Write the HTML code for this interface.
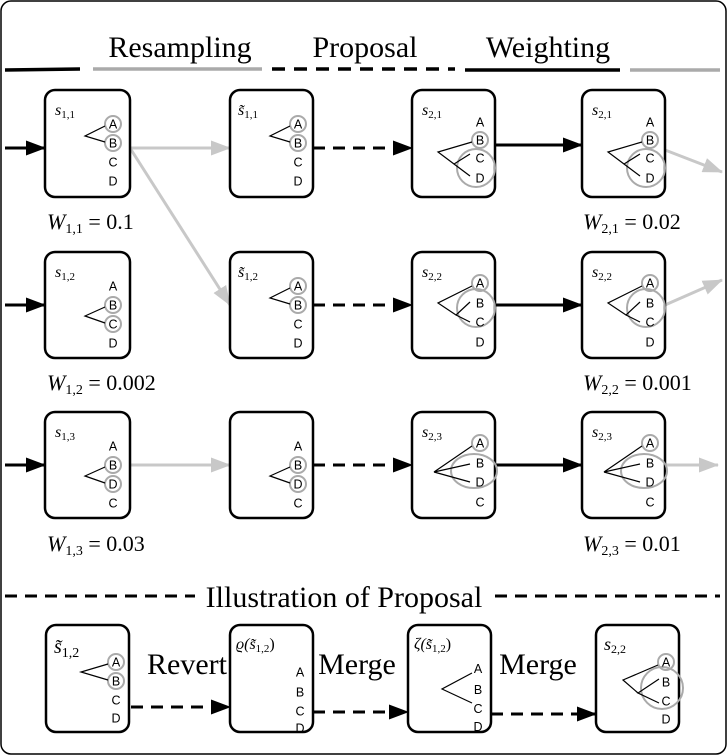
<!DOCTYPE html>
<html><head><meta charset="utf-8"><style>
html,body{margin:0;padding:0;background:#fff}
svg{display:block}
.l{font-family:"Liberation Sans",sans-serif;font-size:12.5px;text-anchor:middle}
.m{font-family:"Liberation Serif",serif;font-style:italic}
.h{font-family:"Liberation Serif",serif;font-size:30px;text-anchor:middle}
.box{fill:#fff;stroke:#000;stroke-width:2.5}
.c{fill:none;stroke:#aaa;stroke-width:2}
.t{stroke:#000;stroke-width:1.2;fill:none}
</style></head><body>
<svg width="727" height="755" viewBox="0 0 727 755" xmlns="http://www.w3.org/2000/svg">
<defs>
<marker id="ab2" markerWidth="20" markerHeight="15" refX="19" refY="7.5" orient="auto" markerUnits="userSpaceOnUse"><path d="M0,0 L20,7.5 L0,15 Z" fill="#000"/></marker>
<marker id="ag" markerWidth="20" markerHeight="15" refX="19" refY="7.5" orient="auto" markerUnits="userSpaceOnUse"><path d="M0,0 L20,7.5 L0,15 Z" fill="#c8c8c8"/></marker>
</defs>
<rect x="1" y="1" width="725" height="753" rx="10" fill="#fff" stroke="#000" stroke-width="1.5"/>

<text class="h" x="180" y="57">Resampling</text>
<text class="h" x="365" y="57">Proposal</text>
<text class="h" x="548" y="57">Weighting</text>
<line x1="5" y1="70" x2="80" y2="69" stroke="#000" stroke-width="3.5"/>
<line x1="93" y1="69" x2="262" y2="69" stroke="#aaa" stroke-width="3.5"/>
<line x1="272" y1="69" x2="455" y2="69" stroke="#000" stroke-width="3.5" stroke-dasharray="13,9"/>
<line x1="465" y1="70" x2="620" y2="70" stroke="#000" stroke-width="3.5"/>
<line x1="630" y1="70" x2="720" y2="70" stroke="#aaa" stroke-width="3.5"/>

<g stroke-width="3">
<line x1="5" y1="148" x2="45" y2="148" stroke="#000" marker-end="url(#ab2)"/>
<line x1="5" y1="305" x2="45" y2="305" stroke="#000" marker-end="url(#ab2)"/>
<line x1="5" y1="465" x2="45" y2="465" stroke="#000" marker-end="url(#ab2)"/>
<line x1="130" y1="148" x2="230" y2="148" stroke="#c8c8c8" marker-end="url(#ag)"/>
<line x1="130" y1="148" x2="230" y2="305" stroke="#c8c8c8" marker-end="url(#ag)"/>
<line x1="130" y1="465" x2="230" y2="465" stroke="#c8c8c8" marker-end="url(#ag)"/>
<line x1="313" y1="148" x2="412" y2="148" stroke="#000" stroke-dasharray="12,8" marker-end="url(#ab2)"/>
<line x1="313" y1="305" x2="412" y2="305" stroke="#000" stroke-dasharray="12,8" marker-end="url(#ab2)"/>
<line x1="313" y1="465" x2="412" y2="465" stroke="#000" stroke-dasharray="12,8" marker-end="url(#ab2)"/>
<line x1="495" y1="145" x2="582" y2="145" stroke="#000" marker-end="url(#ab2)"/>
<line x1="495" y1="305" x2="582" y2="305" stroke="#000" marker-end="url(#ab2)"/>
<line x1="495" y1="465" x2="582" y2="465" stroke="#000" marker-end="url(#ab2)"/>
<line x1="665" y1="150" x2="722" y2="172" stroke="#c8c8c8" marker-end="url(#ag)"/>
<line x1="665" y1="305" x2="722" y2="280" stroke="#c8c8c8" marker-end="url(#ag)"/>
<line x1="665" y1="465" x2="718" y2="465" stroke="#c8c8c8" marker-end="url(#ag)"/>
</g>

<!-- Row 1 -->
<g transform="translate(45,90)">
<rect class="box" width="85" height="107" rx="10"/>
<text class="m" x="10" y="25" font-size="16">s<tspan font-size="11" dy="3" font-style="normal">1,1</tspan></text>
<circle class="c" cx="68" cy="34" r="8"/><circle class="c" cx="68" cy="53" r="8"/>
<path class="t" d="M60,36 L40,46 L60,52"/>
<text class="l" x="68" y="38.5">A</text><text class="l" x="68" y="57.5">B</text><text class="l" x="68" y="76.5">C</text><text class="l" x="68" y="95.5">D</text>
</g>
<g transform="translate(230,90)">
<rect class="box" width="83" height="107" rx="10"/>
<text class="m" x="8" y="25" font-size="16">s̃<tspan font-size="11" dy="3" font-style="normal">1,1</tspan></text>
<circle class="c" cx="68" cy="34" r="8"/><circle class="c" cx="68" cy="53" r="8"/>
<path class="t" d="M60,36 L40,46 L60,52"/>
<text class="l" x="68" y="38.5">A</text><text class="l" x="68" y="57.5">B</text><text class="l" x="68" y="76.5">C</text><text class="l" x="68" y="95.5">D</text>
</g>
<g transform="translate(412,90)">
<rect class="box" width="83" height="107" rx="10"/>
<text class="m" x="10" y="25" font-size="16">s<tspan font-size="11" dy="3" font-style="normal">2,1</tspan></text>
<circle class="c" cx="68" cy="50" r="8"/><circle class="c" cx="64" cy="78" r="19"/>
<path class="t" d="M60,52 L26,62 L42,74 M58,64 L42,74 L58,86"/>
<text class="l" x="68" y="36.5">A</text><text class="l" x="68" y="54.5">B</text><text class="l" x="68" y="72.5">C</text><text class="l" x="68" y="92.5">D</text>
</g>
<g transform="translate(582,90)">
<rect class="box" width="83" height="107" rx="10"/>
<text class="m" x="10" y="25" font-size="16">s<tspan font-size="11" dy="3" font-style="normal">2,1</tspan></text>
<circle class="c" cx="68" cy="50" r="8"/><circle class="c" cx="64" cy="78" r="19"/>
<path class="t" d="M60,52 L26,62 L42,74 M58,64 L42,74 L58,86"/>
<text class="l" x="68" y="36.5">A</text><text class="l" x="68" y="54.5">B</text><text class="l" x="68" y="72.5">C</text><text class="l" x="68" y="92.5">D</text>
</g>
<text x="47" y="229" class="m" font-size="22">W<tspan font-size="14" dy="4" font-style="normal">1,1</tspan><tspan dy="-4" font-style="normal"> = 0.1</tspan></text>
<text x="583" y="229" class="m" font-size="22">W<tspan font-size="14" dy="4" font-style="normal">2,1</tspan><tspan dy="-4" font-style="normal"> = 0.02</tspan></text>

<!-- Row 2 -->
<g transform="translate(45,252)">
<rect class="box" width="85" height="106" rx="10"/>
<text class="m" x="10" y="25" font-size="16">s<tspan font-size="11" dy="3" font-style="normal">1,2</tspan></text>
<circle class="c" cx="68" cy="53" r="8"/><circle class="c" cx="68" cy="72" r="8"/>
<path class="t" d="M60,55 L40,64 L60,71"/>
<text class="l" x="68" y="38.5">A</text><text class="l" x="68" y="57.5">B</text><text class="l" x="68" y="76.5">C</text><text class="l" x="68" y="95.5">D</text>
</g>
<g transform="translate(230,252)">
<rect class="box" width="83" height="106" rx="10"/>
<text class="m" x="8" y="25" font-size="16">s̃<tspan font-size="11" dy="3" font-style="normal">1,2</tspan></text>
<circle class="c" cx="68" cy="34" r="8"/><circle class="c" cx="68" cy="53" r="8"/>
<path class="t" d="M60,36 L40,46 L60,52"/>
<text class="l" x="68" y="38.5">A</text><text class="l" x="68" y="57.5">B</text><text class="l" x="68" y="76.5">C</text><text class="l" x="68" y="95.5">D</text>
</g>
<g transform="translate(412,252)">
<rect class="box" width="83" height="106" rx="10"/>
<text class="m" x="10" y="25" font-size="16">s<tspan font-size="11" dy="3" font-style="normal">2,2</tspan></text>
<circle class="c" cx="68" cy="31" r="8"/><circle class="c" cx="64" cy="56" r="19"/>
<path class="t" d="M60,34 L26,51 L44,63 M58,50 L44,63 L58,70"/>
<text class="l" x="68" y="35.5">A</text><text class="l" x="68" y="55.5">B</text><text class="l" x="68" y="74.5">C</text><text class="l" x="68" y="94.5">D</text>
</g>
<g transform="translate(582,252)">
<rect class="box" width="83" height="106" rx="10"/>
<text class="m" x="10" y="25" font-size="16">s<tspan font-size="11" dy="3" font-style="normal">2,2</tspan></text>
<circle class="c" cx="68" cy="31" r="8"/><circle class="c" cx="64" cy="56" r="19"/>
<path class="t" d="M60,34 L26,51 L44,63 M58,50 L44,63 L58,70"/>
<text class="l" x="68" y="35.5">A</text><text class="l" x="68" y="55.5">B</text><text class="l" x="68" y="74.5">C</text><text class="l" x="68" y="94.5">D</text>
</g>
<text x="47" y="390" class="m" font-size="22">W<tspan font-size="14" dy="4" font-style="normal">1,2</tspan><tspan dy="-4" font-style="normal"> = 0.002</tspan></text>
<text x="583" y="390" class="m" font-size="22">W<tspan font-size="14" dy="4" font-style="normal">2,2</tspan><tspan dy="-4" font-style="normal"> = 0.001</tspan></text>

<!-- Row 3 -->
<g transform="translate(45,412)">
<rect class="box" width="85" height="106" rx="10"/>
<text class="m" x="10" y="25" font-size="16">s<tspan font-size="11" dy="3" font-style="normal">1,3</tspan></text>
<circle class="c" cx="68" cy="53" r="8"/><circle class="c" cx="68" cy="72" r="8"/>
<path class="t" d="M60,55 L40,64 L60,71"/>
<text class="l" x="68" y="38.5">A</text><text class="l" x="68" y="57.5">B</text><text class="l" x="68" y="76.5">D</text><text class="l" x="68" y="95.5">C</text>
</g>
<g transform="translate(230,412)">
<rect class="box" width="83" height="106" rx="10"/>
<circle class="c" cx="68" cy="53" r="8"/><circle class="c" cx="68" cy="72" r="8"/>
<path class="t" d="M60,55 L40,64 L60,71"/>
<text class="l" x="68" y="38.5">A</text><text class="l" x="68" y="57.5">B</text><text class="l" x="68" y="76.5">D</text><text class="l" x="68" y="95.5">C</text>
</g>
<g transform="translate(412,412)">
<rect class="box" width="83" height="106" rx="10"/>
<text class="m" x="10" y="25" font-size="16">s<tspan font-size="11" dy="3" font-style="normal">2,3</tspan></text>
<circle class="c" cx="68" cy="31" r="8"/><ellipse class="c" cx="62" cy="59" rx="23" ry="17"/>
<path class="t" d="M60,34 L22,60 L58,52 M22,60 L58,70"/>
<text class="l" x="68" y="35.5">A</text><text class="l" x="68" y="55.5">B</text><text class="l" x="68" y="74.5">D</text><text class="l" x="68" y="94.5">C</text>
</g>
<g transform="translate(582,412)">
<rect class="box" width="83" height="106" rx="10"/>
<text class="m" x="10" y="25" font-size="16">s<tspan font-size="11" dy="3" font-style="normal">2,3</tspan></text>
<circle class="c" cx="68" cy="31" r="8"/><ellipse class="c" cx="62" cy="59" rx="23" ry="17"/>
<path class="t" d="M60,34 L22,60 L58,52 M22,60 L58,70"/>
<text class="l" x="68" y="35.5">A</text><text class="l" x="68" y="55.5">B</text><text class="l" x="68" y="74.5">D</text><text class="l" x="68" y="94.5">C</text>
</g>
<text x="47" y="551" class="m" font-size="22">W<tspan font-size="14" dy="4" font-style="normal">1,3</tspan><tspan dy="-4" font-style="normal"> = 0.03</tspan></text>
<text x="583" y="551" class="m" font-size="22">W<tspan font-size="14" dy="4" font-style="normal">2,3</tspan><tspan dy="-4" font-style="normal"> = 0.01</tspan></text>

<!-- Illustration -->
<line x1="5" y1="596" x2="195" y2="596" stroke="#000" stroke-width="3" stroke-dasharray="12,8"/>
<line x1="495" y1="596" x2="720" y2="596" stroke="#000" stroke-width="3" stroke-dasharray="12,8"/>
<text class="h" x="344" y="607" font-size="33">Illustration of Proposal</text>

<g stroke-width="3" stroke="#000" stroke-dasharray="12,8">
<line x1="131" y1="707" x2="230" y2="707" marker-end="url(#ab2)"/>
<line x1="313" y1="712" x2="408" y2="712" marker-end="url(#ab2)"/>
<line x1="491" y1="714" x2="596" y2="714" marker-end="url(#ab2)"/>
</g>
<text class="h" x="187" y="674" font-size="28">Revert</text>
<text class="h" x="357" y="674" font-size="28">Merge</text>
<text class="h" x="538" y="674" font-size="28">Merge</text>

<g transform="translate(46,625)">
<rect class="box" width="83" height="107" rx="10"/>
<text class="m" x="8" y="28" font-size="20">s̃<tspan font-size="14" dy="4" font-style="normal">1,2</tspan></text>
<circle class="c" cx="70" cy="37" r="8"/><circle class="c" cx="70" cy="56" r="8"/>
<path class="t" d="M62,39 L35,47 L62,55"/>
<text class="l" x="70" y="41.5">A</text><text class="l" x="70" y="60.5">B</text><text class="l" x="70" y="79.5">C</text><text class="l" x="70" y="97.5">D</text>
</g>
<g transform="translate(230,625)">
<rect class="box" width="83" height="107" rx="10"/>
<text class="m" x="6" y="24" font-size="16">ϱ(s̃<tspan font-size="11" dy="3" font-style="normal">1,2</tspan><tspan dy="-3" font-style="normal">)</tspan></text>
<text class="l" x="70" y="51.5">A</text><text class="l" x="70" y="71.5">B</text><text class="l" x="70" y="90.5">C</text><text class="l" x="70" y="107.5" dy="-0">D</text>
</g>
<g transform="translate(408,625)">
<rect class="box" width="83" height="107" rx="10"/>
<text class="m" x="6" y="24" font-size="16">ζ(s̃<tspan font-size="11" dy="3" font-style="normal">1,2</tspan><tspan dy="-3" font-style="normal">)</tspan></text>
<path class="t" d="M64,48 L34,64 L64,78"/>
<text class="l" x="70" y="48">A</text><text class="l" x="70" y="69">B</text><text class="l" x="70" y="88">C</text><text class="l" x="70" y="106">D</text>
</g>
<g transform="translate(596,625)">
<rect class="box" width="83" height="107" rx="10"/>
<text class="m" x="8" y="25" font-size="18">s<tspan font-size="12" dy="3" font-style="normal">2,2</tspan></text>
<circle class="c" cx="70" cy="37" r="8"/><circle class="c" cx="66" cy="63" r="21"/>
<path class="t" d="M62,40 L27,55 L42,68 M63,54 L42,68 L63,78"/>
<text class="l" x="70" y="41.5">A</text><text class="l" x="70" y="61.5">B</text><text class="l" x="70" y="80.5">C</text><text class="l" x="70" y="98.5">D</text>
</g>
</svg>
</body></html>
